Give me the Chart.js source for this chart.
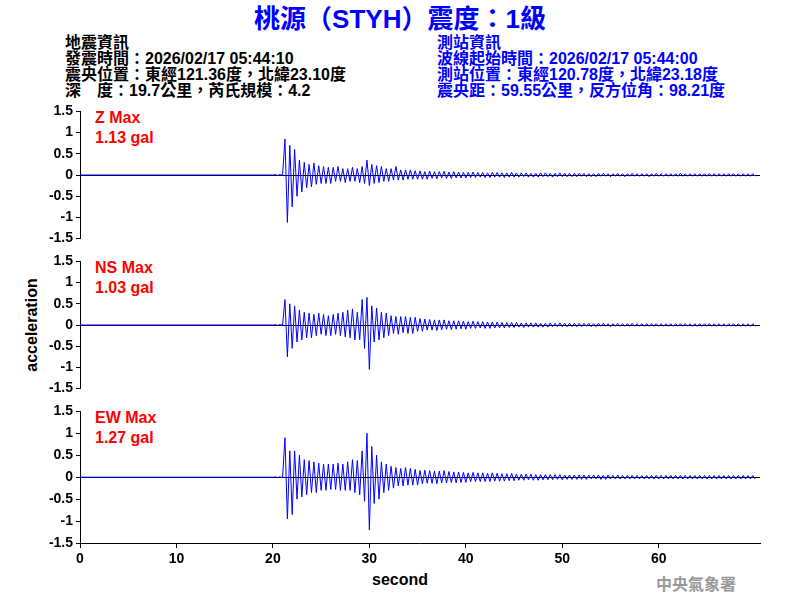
<!DOCTYPE html>
<html><head><meta charset="utf-8">
<script src="https://cdn.jsdelivr.net/npm/chart.js@4.4.0/dist/chart.umd.min.js"></script>
<style>
body{margin:0;width:800px;height:600px;background:#fff;position:relative;overflow:hidden;font-family:"Liberation Sans","Noto Sans CJK TC",sans-serif}
.t{position:absolute;white-space:nowrap}
canvas{position:absolute;left:0}
.info{font-family:"Liberation Sans","Noto Sans CJK TC";font-weight:bold;font-size:16px;line-height:16px}
.lab{color:#f00;font-size:16px;font-weight:bold;line-height:20px}
</style></head><body>
<div class="t" style="left:0;width:800px;text-align:center;top:-2px;color:#0000ff;font-size:26px;font-weight:bold;font-family:'Liberation Sans','Noto Sans CJK TC'">桃源（STYH）震度：1級</div>
<div class="t info" style="left:65px;top:35px;color:#000">地震資訊<br>發震時間：2026/02/17 05:44:10<br>震央位置：東經121.36度，北緯23.10度<br>深　度：19.7公里，芮氏規模：4.2</div>
<div class="t info" style="left:437px;top:35px;color:#0000ff">測站資訊<br>波線起始時間：2026/02/17 05:44:00<br>測站位置：東經120.78度，北緯23.18度<br>震央距：59.55公里，反方位角：98.21度</div>
<div class="t lab" style="left:95px;top:108px">Z Max<br>1.13 gal</div>
<div class="t lab" style="left:95px;top:258px">NS Max<br>1.03 gal</div>
<div class="t lab" style="left:95px;top:408px">EW Max<br>1.27 gal</div>
<div class="t" style="left:32px;top:316px;transform:translate(-50%,0) rotate(-90deg);transform-origin:50% 50%;font-size:16px;font-weight:bold">acceleration</div>
<div class="t" style="left:0;width:800px;text-align:center;top:571px;font-size:16px;font-weight:bold">second</div>
<div class="t" style="left:656px;top:571px;font-size:16px;color:#999;font-weight:bold;font-family:'Noto Sans CJK TC'">中央氣象署</div>
<canvas id="c0" width="800" height="150" style="top:100px"></canvas>
<canvas id="c1" width="800" height="150" style="top:250px"></canvas>
<canvas id="c2" width="800" height="190" style="top:400px"></canvas>
<script>
const startTime = 20.25, step = 0.25;
const yTicks = [1.5,1,0.5,0,-0.5,-1,-1.5];
const xTicks = [0,10,20,30,40,50,60];
const zValues = [0.01,-0.01,0.01,-0.01, 0.85,-1.12,0.7,-0.75, 0.6,-0.5,0.35,-0.4, 0.3,-0.3,0.25,-0.28, 0.28,-0.22,0.22,-0.2,
0.2,-0.2,0.18,-0.2, 0.18,-0.15,0.2,-0.15, 0.15,-0.18,0.15,-0.15, 0.18,-0.15,0.15,-0.18, 0.2,-0.2,0.35,-0.25,
0.25,-0.2,0.22,-0.18, 0.2,-0.15,0.15,-0.15, 0.15,-0.12,0.2,-0.12, 0.12,-0.12,0.12,-0.1, 0.12,-0.1,0.1,-0.1,
0.1,-0.1,0.08,-0.1, 0.09,-0.08,0.08,-0.09, 0.08,-0.07,0.09,-0.08, 0.07,-0.08,0.08,-0.07, 0.07,-0.07,0.06,-0.07,
0.06,-0.06,0.07,-0.06, 0.06,-0.05,0.06,-0.06, 0.05,-0.06,0.06,-0.05, 0.06,-0.05,0.05,-0.06, 0.05,-0.05,0.06,-0.05,
0.05,-0.05,0.05,-0.04, 0.05,-0.05,0.04,-0.05, 0.04,-0.05,0.05,-0.04, 0.05,-0.04,0.04,-0.05, 0.04,-0.04,0.05,-0.04,
0.04,-0.04,0.04,-0.04, 0.04,-0.04,0.04,-0.03, 0.04,-0.04,0.03,-0.04, 0.03,-0.04,0.04,-0.03, 0.04,-0.03,0.03,-0.04,
0.03,-0.03,0.04,-0.03, 0.03,-0.04,0.03,-0.03, 0.04,-0.03,0.03,-0.03, 0.03,-0.03,0.03,-0.04, 0.03,-0.03,0.04,-0.03,
0.03,-0.03,0.03,-0.03, 0.03,-0.03,0.03,-0.03, 0.04,-0.03,0.03,-0.03, 0.03,-0.03,0.03,-0.03, 0.03,-0.03,0.03,-0.03,
0.03,-0.03,0.03,-0.03, 0.03,-0.03,0.03,-0.03, 0.03,-0.03,0.03,-0.03, 0.03,-0.03,0.03,-0.03, 0.03,-0.03,0.03,-0.03];
const nsValues = [0.01,-0.01,0.01,-0.01, 0.6,-0.75,0.5,-0.55, 0.45,-0.4,0.35,-0.35, 0.3,-0.3,0.28,-0.3, 0.25,-0.25,0.28,-0.22,
0.25,-0.25,0.22,-0.25, 0.25,-0.22,0.28,-0.25, 0.3,-0.28,0.35,-0.3, 0.38,-0.35,0.3,-0.35, 0.6,-0.55,0.65,-1.05,
0.45,-0.4,0.4,-0.35, 0.3,-0.3,0.28,-0.25, 0.22,-0.2,0.2,-0.22, 0.2,-0.18,0.2,-0.2, 0.18,-0.2,0.18,-0.15,
0.15,-0.15,0.14,-0.12, 0.13,-0.12,0.12,-0.13, 0.12,-0.11,0.12,-0.1, 0.1,-0.11,0.1,-0.1, 0.1,-0.09,0.09,-0.1,
0.08,-0.08,0.09,-0.08, 0.08,-0.07,0.08,-0.08, 0.07,-0.08,0.07,-0.07, 0.07,-0.07,0.06,-0.07, 0.06,-0.06,0.06,-0.06,
0.06,-0.05,0.05,-0.06, 0.05,-0.05,0.05,-0.05, 0.05,-0.05,0.04,-0.05, 0.04,-0.05,0.05,-0.04, 0.04,-0.04,0.05,-0.04,
0.04,-0.04,0.04,-0.04, 0.04,-0.04,0.04,-0.04, 0.04,-0.03,0.04,-0.04, 0.03,-0.04,0.04,-0.03, 0.04,-0.03,0.03,-0.04,
0.03,-0.03,0.04,-0.03, 0.03,-0.03,0.03,-0.03, 0.04,-0.03,0.03,-0.03, 0.03,-0.03,0.03,-0.03, 0.03,-0.03,0.03,-0.03,
0.03,-0.03,0.03,-0.03, 0.03,-0.03,0.03,-0.03, 0.03,-0.03,0.03,-0.03, 0.03,-0.03,0.03,-0.03, 0.03,-0.03,0.03,-0.03,
0.03,-0.03,0.03,-0.03, 0.03,-0.03,0.03,-0.03, 0.03,-0.03,0.03,-0.03, 0.03,-0.03,0.03,-0.03, 0.03,-0.03,0.03,-0.03];
const ewValues = [0.01,-0.01,0.01,-0.01, 0.9,-0.95,0.6,-0.85, 0.6,-0.5,0.5,-0.45, 0.4,-0.4,0.38,-0.35, 0.35,-0.35,0.32,-0.3,
0.3,-0.3,0.3,-0.28, 0.3,-0.28,0.32,-0.3, 0.3,-0.3,0.35,-0.3, 0.4,-0.35,0.38,-0.4, 0.6,-0.55,1.0,-1.2,
0.7,-0.6,0.5,-0.5, 0.35,-0.35,0.3,-0.3, 0.25,-0.25,0.22,-0.2, 0.2,-0.2,0.22,-0.18, 0.2,-0.18,0.18,-0.18,
0.15,-0.15,0.16,-0.14, 0.15,-0.14,0.14,-0.15, 0.14,-0.13,0.15,-0.13, 0.13,-0.12,0.12,-0.13, 0.12,-0.12,0.11,-0.12,
0.1,-0.1,0.11,-0.1, 0.1,-0.1,0.1,-0.1, 0.09,-0.1,0.1,-0.09, 0.09,-0.09,0.08,-0.09, 0.08,-0.08,0.09,-0.08,
0.07,-0.07,0.07,-0.07, 0.07,-0.06,0.07,-0.07, 0.06,-0.07,0.06,-0.06, 0.06,-0.06,0.06,-0.06, 0.06,-0.05,0.06,-0.06,
0.05,-0.05,0.05,-0.05, 0.05,-0.05,0.05,-0.05, 0.05,-0.05,0.05,-0.04, 0.05,-0.04,0.05,-0.05, 0.04,-0.05,0.05,-0.04,
0.04,-0.04,0.05,-0.04, 0.04,-0.04,0.04,-0.04, 0.04,-0.04,0.04,-0.04, 0.04,-0.04,0.04,-0.04, 0.04,-0.04,0.04,-0.04,
0.04,-0.04,0.04,-0.04, 0.04,-0.04,0.04,-0.04, 0.04,-0.04,0.04,-0.04, 0.04,-0.04,0.04,-0.04, 0.04,-0.04,0.04,-0.04,
0.04,-0.04,0.04,-0.04, 0.04,-0.04,0.04,-0.04, 0.04,-0.04,0.04,-0.04, 0.04,-0.04,0.04,-0.04, 0.04,-0.04,0.04,-0.04];
const preOnset = [[0,0],[20.1,0]];

function pts(vals){
  return preOnset.map(p=>({x:p[0],y:p[1]})).concat(vals.map((v,i)=>({x:startTime+i*step,y:v})));
}
const tickFont={family:"Liberation Sans",size:14,weight:'bold'};
function make(id,vals,showX,padBottom){
  new Chart(document.getElementById(id),{
    type:'line',
    data:{datasets:[{data:pts(vals),borderColor:'#0000ff',borderWidth:1,pointRadius:0,tension:0}]},
    options:{responsive:false,animation:false,
      layout:{padding:{top:7,right:40,left:0,bottom:padBottom}},
      plugins:{legend:{display:false},tooltip:{enabled:false}},
      scales:{
        x:{type:'linear',min:0,max:70.5,display:showX,
          afterBuildTicks:s=>{s.ticks=xTicks.map(v=>({value:v}));},
          afterFit:s=>{if(showX) s.height=47; else s.height=0;},
          grid:{display:true,drawOnChartArea:false,tickLength:5,tickColor:'#000'},
          border:{color:'#000'},
          ticks:{color:'#000',font:tickFont,autoSkip:false,callback:v=>String(v)}},
        y:{min:-1.5,max:1.5,
          afterBuildTicks:s=>{s.ticks=yTicks.map(v=>({value:v}));},
          afterFit:s=>{s.width=80;},
          grid:{color:c=>c.tick&&c.tick.value===0?'#000':'rgba(0,0,0,0)',tickColor:'#000',tickLength:4},
          border:{color:'#000'},
          ticks:{color:'#000',font:tickFont,padding:3,autoSkip:false,callback:v=>String(v)}}
      }}
  });
}
make('c0',zValues,false,8);
make('c1',nsValues,false,8);
make('c2',ewValues,true,0);
</script></body></html>
